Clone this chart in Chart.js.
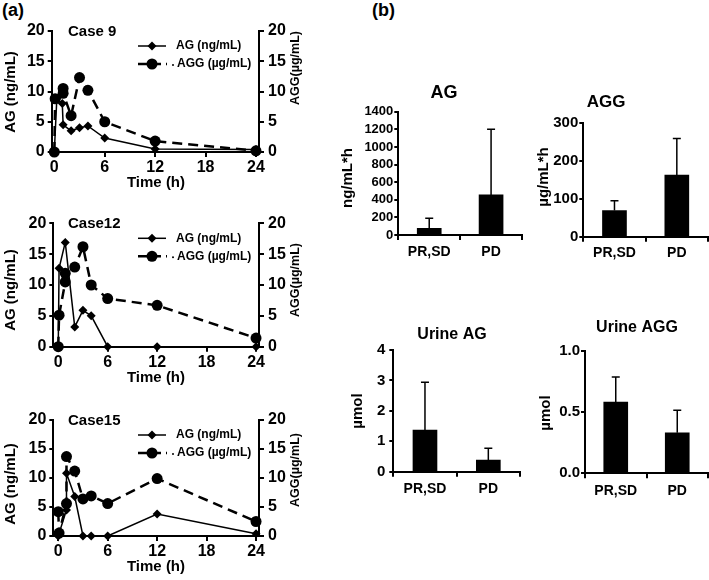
<!DOCTYPE html>
<html><head><meta charset="utf-8">
<script src="https://cdn.jsdelivr.net/npm/chart.js@4.4.1/dist/chart.umd.min.js"></script>
<style>
html,body{margin:0;padding:0;background:#fff;width:709px;height:580px;overflow:hidden;position:relative;}
.lab{position:absolute;font:bold 18px "Liberation Sans",Arial,sans-serif;color:#000;line-height:20px;}
canvas{position:absolute;}
</style></head><body>
<div class="lab" style="left:2px;top:0px">(a)</div>
<div class="lab" style="left:372px;top:0px">(b)</div>
<script>
// ---------- data ----------
const timeTicks = [0, 6, 12, 18, 24];
const concTicks = [0, 5, 10, 15, 20];

const case9TimeAG  = [0, 0.3, 0.95, 1.05, 2, 3, 4, 6, 12, 24];
const case9AG      = [0, 8.8, 8.0, 4.5, 3.5, 4.0, 4.3, 2.3, 0.5, 0.4];
const case9TimeAGG = [0, 0.1, 1.05, 1.05, 2, 3, 4, 6, 12, 24];
const case9AGG     = [0, 8.8, 10.5, 9.7, 6.0, 12.3, 10.2, 5.0, 1.8, 0.2];

const case12TimeAG  = [0, 0.1, 0.85, 2, 3, 4, 6, 12, 24];
const case12AG      = [0, 12.7, 16.9, 3.2, 5.9, 5.0, 0, 0, 0];
const case12TimeAGG = [0, 0.1, 0.85, 0.85, 2, 3, 4, 6, 12, 24];
const case12AGG     = [0, 5.1, 10.5, 11.9, 12.9, 16.2, 10.0, 7.8, 6.7, 1.4];

const case15TimeAG  = [0, 1, 1, 2, 3, 4, 6, 12, 24];
const case15AG      = [0, 4.5, 10.8, 6.8, 0, 0, 0, 3.8, 0.4];
const case15TimeAGG = [0, 0.1, 1, 1, 2, 3, 4, 6, 12, 24];
const case15AGG     = [4.2, 0.5, 5.6, 13.7, 11.2, 6.4, 6.9, 5.6, 9.9, 2.5];

const barCats     = ['PR,SD', 'PD'];
const aucAG       = [77, 455];
const aucAGErr    = [113, 745];
const aucAGG      = [69, 163];
const aucAGGErr   = [26, 97];
const urineAG     = [1.37, 0.38];
const urineAGErr  = [1.57, 0.39];
const urineAGG    = [0.58, 0.33];
const urineAGGErr = [0.205, 0.185];

// ---------- helpers ----------
const FF = '"Liberation Sans", Arial, Helvetica, sans-serif';
const bf = s => ({family: FF, size: s, weight: 'bold'});
Chart.defaults.color = '#000';

function place(box) {
  const cv = document.createElement('canvas');
  cv.width = box.w; cv.height = box.h;
  cv.style.left = box.x + 'px'; cv.style.top = box.y + 'px';
  document.body.appendChild(cv);
  return cv;
}
function drawText(ctx, box, t) {
  ctx.save();
  ctx.font = 'bold ' + t.s + 'px ' + FF;
  ctx.textAlign = t.a || 'center';
  ctx.textBaseline = 'middle';
  ctx.fillStyle = '#000';
  ctx.translate(t.x - box.x, t.y - box.y);
  if (t.r) ctx.rotate(t.r * Math.PI / 180);
  ctx.fillText(t.t, 0, 0);
  ctx.restore();
}
function axisStyle(tl, offset) {
  return {
    border: {color: '#000', width: 2},
    grid: {offset: !!offset, drawOnChartArea: false, drawTicks: true, tickLength: tl, color: '#000', lineWidth: 2}
  };
}
const pts = (ts, vs) => ts.map((t, i) => ({x: t, y: vs[i]}));

function lineChart(box, plot, xr, title, tAG, vAG, tAGG, vAGG, lab) {
  const cv = place(box);
  const deco = {
    id: 'deco',
    afterDraw(chart) {
      const ctx = chart.ctx;
      drawText(ctx, box, {t: title, x: 68, y: plot.t + 1, s: 15, a: 'left'});
      drawText(ctx, box, {t: 'AG (ng/mL)', x: 11, y: lab.yl, s: 15, r: -90});
      drawText(ctx, box, {t: 'AGG(\u00b5g/mL)', x: 296, y: lab.yr, s: 12.5, r: -90});
      drawText(ctx, box, {t: 'Time (h)', x: 156, y: plot.b + 31, s: 15});
      // legend
      const r1 = plot.t + 15, r2 = plot.t + 33;
      ctx.save();
      ctx.strokeStyle = '#000'; ctx.fillStyle = '#000';
      ctx.lineWidth = 1.5;
      ctx.beginPath(); ctx.moveTo(138 - box.x, r1 - box.y); ctx.lineTo(166 - box.x, r1 - box.y); ctx.stroke();
      ctx.beginPath();
      ctx.moveTo(152 - box.x, r1 - 4.5 - box.y); ctx.lineTo(156.5 - box.x, r1 - box.y);
      ctx.lineTo(152 - box.x, r1 + 4.5 - box.y); ctx.lineTo(147.5 - box.x, r1 - box.y); ctx.closePath(); ctx.fill();
      ctx.lineWidth = 2.5; ctx.setLineDash([9, 5]);
      ctx.beginPath(); ctx.moveTo(138 - box.x, r2 - box.y); ctx.lineTo(167 - box.x, r2 - box.y); ctx.stroke();
      ctx.setLineDash([]);
      ctx.beginPath(); ctx.arc(152 - box.x, r2 - box.y, 5.5, 0, Math.PI * 2); ctx.fill();
      ctx.beginPath(); ctx.arc(173 - box.x, r2 + 1 - box.y, 1, 0, Math.PI * 2); ctx.fill();
      ctx.restore();
      drawText(ctx, box, {t: 'AG (ng/mL)', x: 176, y: r1, s: 12, a: 'left'});
      drawText(ctx, box, {t: 'AGG (\u00b5g/mL)', x: 177, y: r2, s: 12, a: 'left'});
    }
  };
  return new Chart(cv, {
    type: 'scatter',
    data: {datasets: [
      {data: pts(tAG, vAG), showLine: true, borderColor: '#000', backgroundColor: '#000', borderWidth: 1.5,
       pointStyle: 'rectRot', pointRadius: 4.5, pointBorderWidth: 0, yAxisID: 'y', clip: false},
      {data: pts(tAGG, vAGG), showLine: true, borderColor: '#000', backgroundColor: '#000', borderWidth: 2.5,
       borderDash: [10, 6], pointStyle: 'circle', pointRadius: 5.5, pointBorderWidth: 0, yAxisID: 'y2', clip: false}
    ]},
    options: {
      responsive: false, animation: false, devicePixelRatio: 1,
      layout: {padding: {top: plot.t - box.y, left: 0, right: 0, bottom: 0}},
      plugins: {legend: {display: false}, tooltip: {enabled: false}},
      scales: {
        x: Object.assign({type: 'linear', min: xr[0], max: xr[1],
          afterBuildTicks: s => { s.ticks = timeTicks.map(v => ({value: v})); },
          afterFit: s => { s.height = box.y + box.h - plot.b; },
          ticks: {color: '#000', font: bf(16), padding: 1, maxRotation: 0, autoSkip: false}}, axisStyle(5)),
        y: Object.assign({position: 'left', min: 0, max: 20,
          afterBuildTicks: s => { s.ticks = concTicks.map(v => ({value: v})); },
          afterFit: s => { s.width = plot.l - box.x; },
          ticks: {color: '#000', font: bf(16), padding: 3, autoSkip: false}}, axisStyle(4)),
        y2: Object.assign({position: 'right', min: 0, max: 20,
          afterBuildTicks: s => { s.ticks = concTicks.map(v => ({value: v})); },
          afterFit: s => { s.width = box.x + box.w - plot.r; },
          ticks: {color: '#000', font: bf(16), padding: 4, autoSkip: false}}, axisStyle(5))
      }
    },
    plugins: [deco]
  });
}

function barChart(box, plot, vals, errs, max, step, fmt, title, ytitle, tickFont, ypad, tl, tp) {
  const cv = place(box);
  const deco = {
    id: 'deco',
    afterDatasetsDraw(chart) {
      const ctx = chart.ctx, ys = chart.scales.y;
      const meta = chart.getDatasetMeta(0);
      ctx.save(); ctx.strokeStyle = '#000'; ctx.lineWidth = 1.5;
      meta.data.forEach((bar, i) => {
        const yt = ys.getPixelForValue(vals[i] + errs[i]);
        ctx.beginPath(); ctx.moveTo(bar.x, bar.y); ctx.lineTo(bar.x, yt);
        ctx.moveTo(bar.x - 4, yt); ctx.lineTo(bar.x + 4, yt); ctx.stroke();
      });
      ctx.restore();
    },
    afterDraw(chart) {
      const ctx = chart.ctx;
      drawText(ctx, box, title);
      drawText(ctx, box, ytitle);
    }
  };
  const yTicks = [];
  for (let v = 0; v <= max + 1e-9; v += step) yTicks.push(Math.round(v * 100) / 100);
  return new Chart(cv, {
    type: 'bar',
    data: {labels: barCats, datasets: [{data: vals, backgroundColor: '#000', borderWidth: 0, barThickness: 24}]},
    options: {
      responsive: false, animation: false, devicePixelRatio: 1,
      layout: {padding: {top: plot.t - box.y, left: 0, right: box.x + box.w - plot.r, bottom: 0}},
      plugins: {legend: {display: false}, tooltip: {enabled: false}},
      scales: {
        x: Object.assign({type: 'category', offset: true,
          afterFit: s => { s.height = box.y + box.h - plot.b; },
          ticks: {color: '#000', font: bf(14), padding: tp, autoSkip: false, maxRotation: 0}}, axisStyle(5, true)),
        y: Object.assign({min: 0, max: max,
          afterBuildTicks: s => { s.ticks = yTicks.map(v => ({value: v})); },
          afterFit: s => { s.width = plot.l - box.x; },
          ticks: {color: '#000', font: bf(tickFont), padding: ypad, autoSkip: false, callback: fmt}}, axisStyle(tl))
      }
    },
    plugins: [deco]
  });
}

// ---------- panel (a) ----------
lineChart({x: 0, y: 15, w: 330, h: 185}, {l: 51.7, t: 31, r: 259, b: 152}, [-0.31, 24.36], 'Case 9',
  case9TimeAG, case9AG, case9TimeAGG, case9AGG, {yl: 92, yr: 68});
lineChart({x: 0, y: 205, w: 330, h: 192}, {l: 53.3, t: 223.3, r: 259, b: 346.7}, [-0.6, 24.36], 'Case12',
  case12TimeAG, case12AG, case12TimeAGG, case12AGG, {yl: 290, yr: 280});
lineChart({x: 0, y: 400, w: 330, h: 180}, {l: 53.3, t: 420, r: 259, b: 536}, [-0.6, 24.36], 'Case15',
  case15TimeAG, case15AG, case15TimeAGG, case15AGG, {yl: 484, yr: 470});

// ---------- panel (b) ----------
const intFmt = v => String(v);
barChart({x: 330, y: 70, w: 195, h: 200}, {l: 398.3, t: 111.7, r: 522, b: 235}, aucAG, aucAGErr, 1400, 200, intFmt,
  {t: 'AG', x: 444, y: 93, s: 18}, {t: 'ng/mL*h', x: 348, y: 178, s: 15, r: -90}, 13, 1, 4, 4);
barChart({x: 530, y: 80, w: 179, h: 190}, {l: 583.3, t: 123.3, r: 708, b: 236.7}, aucAGG, aucAGGErr, 300, 100, intFmt,
  {t: 'AGG', x: 606, y: 102, s: 17}, {t: '\u00b5g/mL*h', x: 544, y: 177, s: 15, r: -90}, 15, 1, 4, 3);
barChart({x: 330, y: 310, w: 195, h: 200}, {l: 393.3, t: 350, r: 520, b: 471.7}, urineAG, urineAGErr, 4, 1, intFmt,
  {t: 'Urine AG', x: 452, y: 335, s: 16}, {t: '\u00b5mol', x: 358, y: 411, s: 15, r: -90}, 15, 4, 4, 4);
barChart({x: 530, y: 310, w: 179, h: 200}, {l: 585, t: 350.7, r: 708, b: 473.3}, urineAGG, urineAGGErr, 1.0, 0.5, v => v.toFixed(1),
  {t: 'Urine AGG', x: 637, y: 328, s: 16}, {t: '\u00b5mol', x: 546, y: 413, s: 15, r: -90}, 15, 1, 4, 4);
</script>
</body></html>
